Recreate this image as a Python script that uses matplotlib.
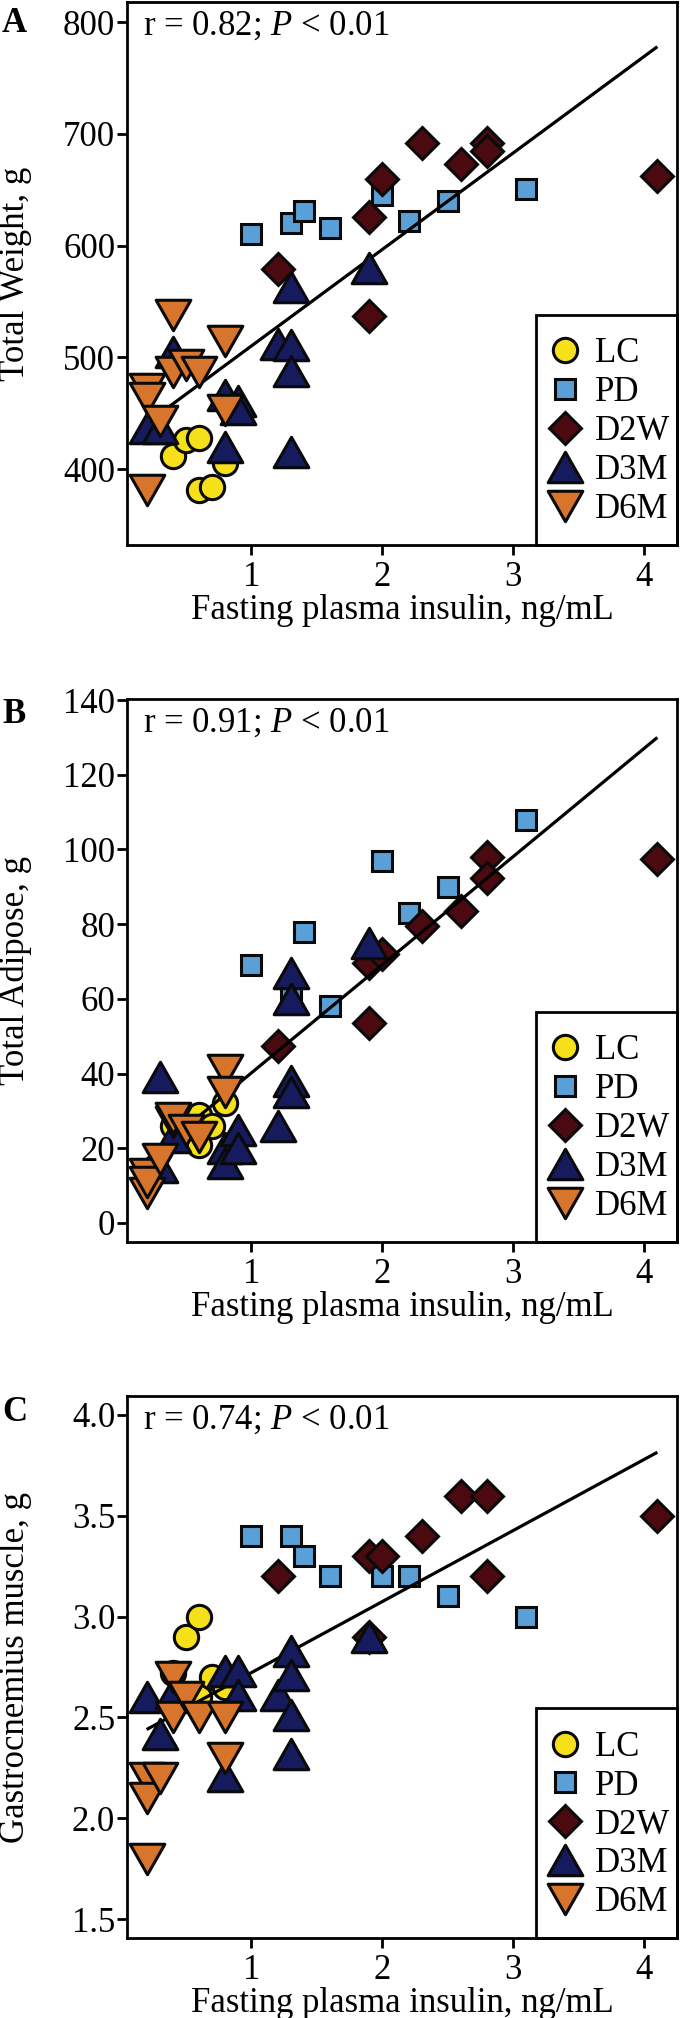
import matplotlib
matplotlib.use("Agg")
import matplotlib.pyplot as plt
from matplotlib.markers import MarkerStyle
from matplotlib.patches import Rectangle
from matplotlib.path import Path

plt.rcParams['font.family'] = ['Liberation Serif', 'DejaVu Serif']
plt.rcParams['mathtext.fontset'] = 'custom'
plt.rcParams['mathtext.rm'] = 'Liberation Serif'
plt.rcParams['mathtext.it'] = 'Liberation Serif:italic'

# ---------------- data ----------------
groups = ["LC", "PD", "D2W", "D3M", "D6M"]
group_colors = ["#F6E01A", "#5A9FD5", "#4A0A10", "#151B5C", "#D8752C"]

insulin_lc = [0.4, 0.5, 0.6, 0.6, 0.7, 0.8]
insulin_pd = [1.0, 1.3, 1.4, 1.6, 2.0, 2.2, 2.5, 3.1]
insulin_d2w = [1.2, 1.9, 1.9, 2.0, 2.3, 2.6, 2.8, 2.8, 4.1]
insulin_d3m = [0.2, 0.3, 0.4, 0.8, 0.8, 0.9, 0.9, 1.2, 1.3, 1.3, 1.3, 1.3, 1.9]
insulin_d3m_adipose = [0.3, 0.3, 0.4, 0.8, 0.8, 0.9, 0.9, 1.2, 1.3, 1.3, 1.3, 1.3, 1.9]
insulin_d6m = [0.2, 0.2, 0.2, 0.3, 0.4, 0.4, 0.5, 0.6, 0.8, 0.8]

weight_lc = [412, 426, 428, 381, 384, 405]
weight_pd = [610, 620, 631, 616, 645, 622, 640, 651]
weight_d2w = [579, 626, 537, 660, 692, 673, 692, 685, 662]
weight_d3m = [437, 437, 505, 466, 420, 461, 454, 512, 563, 511, 488, 415, 580]
weight_d6m = [472, 464, 381, 443, 538, 487, 493, 487, 515, 453]

adipose_lc = [26, 23, 29, 21, 26, 32]
adipose_pd = [69, 61.5, 78, 58, 97, 83, 90, 108]
adipose_d2w = [47.5, 69.5, 53.5, 72, 79.5, 83.5, 98, 92.5, 97.5]
adipose_d3m = [39, 15, 23, 20, 16, 25, 20, 26, 67, 60, 38, 35, 75]
adipose_d6m = [13, 8, 11, 17, 27, 28, 25, 23, 41, 35]

muscle_lc = [2.72, 2.9, 3.0, 2.6, 2.7, 2.65]
muscle_pd = [3.4, 3.4, 3.3, 3.2, 3.2, 3.2, 3.1, 3.0]
muscle_d2w = [3.2, 3.3, 2.9, 3.3, 3.4, 3.6, 3.6, 3.2, 3.5]
muscle_d3m = [2.6, 2.42, 2.62, 2.73, 2.21, 2.73, 2.61, 2.61, 2.83, 2.71, 2.51, 2.32, 2.9]
muscle_d6m = [2.2, 2.1, 1.8, 2.2, 2.7, 2.5, 2.6, 2.5, 2.5, 2.3]

fit_x = [0.2, 4.1]
weight_fit = [441, 778]
adipose_fit = [17, 130]
muscle_fit = [2.44, 3.815]

panel_letters = ["A", "B", "C"]
y_labels = ["Total Weight, g", "Total Adipose, g", "Gastrocnemius muscle, g"]
stats_text = [r"r = 0.82; $\mathit{P}$ < 0.01", r"r = 0.91; $\mathit{P}$ < 0.01",
              r"r = 0.74; $\mathit{P}$ < 0.01"]
x_ticks = [1, 2, 3, 4]
weight_ticks = [400, 500, 600, 700, 800]
adipose_ticks = [0, 20, 40, 60, 80, 100, 120, 140]
muscle_ticks = [1.5, 2.0, 2.5, 3.0, 3.5, 4.0]

# ---------------- styling ----------------
tri_w = 1.14
tri_up = MarkerStyle(Path([(-tri_w, -1), (tri_w, -1), (0, 1), (0, 0)], closed=True), joinstyle='miter')
tri_dn = MarkerStyle(Path([(-tri_w, 1), (tri_w, 1), (0, -1), (0, 0)], closed=True), joinstyle='miter')
markers = ['o', 's', 'D', tri_up, tri_dn]
msizes = [17.5, 15, 16.5, 25, 25]
zorders = [3.0, 3.1, 3.2, 3.4, 3.5]
EDGE = "#0a0a0a"
MEW = 2.2
FS = 25

fig = plt.figure(figsize=(6.8, 20.18), dpi=100)
rects = [[0.18676, 0.72993, 0.80882, 0.26908],
         [0.18676, 0.38454, 0.80882, 0.26908],
         [0.18676, 0.03964, 0.80882, 0.26858]]
ylims = [(332, 818), (-5.1, 140.3), (1.406, 4.094)]
letter_y = [32, 723, 1421]

panels = [
    ([insulin_lc, insulin_pd, insulin_d2w, insulin_d3m, insulin_d6m],
     [weight_lc, weight_pd, weight_d2w, weight_d3m, weight_d6m], weight_fit, weight_ticks, "{:.0f}"),
    ([insulin_lc, insulin_pd, insulin_d2w, insulin_d3m_adipose, insulin_d6m],
     [adipose_lc, adipose_pd, adipose_d2w, adipose_d3m, adipose_d6m], adipose_fit, adipose_ticks, "{:.0f}"),
    ([insulin_lc, insulin_pd, insulin_d2w, insulin_d3m, insulin_d6m],
     [muscle_lc, muscle_pd, muscle_d2w, muscle_d3m, muscle_d6m], muscle_fit, muscle_ticks, "{:.1f}"),
]

for i, (xs, ys, fit, yticks, fmt) in enumerate(panels):
    ax = fig.add_axes(rects[i])
    handles = []
    for g in range(5):
        h, = ax.plot(xs[g], ys[g], linestyle='none', marker=markers[g], ms=msizes[g],
                     mfc=group_colors[g], mec=EDGE, mew=MEW, zorder=zorders[g],
                     label=groups[g], clip_on=False)
        handles.append(h)
    ax.plot(fit_x, fit, color='k', lw=2.3, zorder=3.3, solid_capstyle='butt')

    ax.set_xlim(0.05, 4.25)
    ax.set_ylim(*ylims[i])
    ax.set_xticks(x_ticks)
    ax.set_xticklabels([str(t) for t in x_ticks])
    ax.set_yticks(yticks)
    ax.set_yticklabels([fmt.format(t) for t in yticks])
    for s in ax.spines.values():
        s.set_linewidth(2.0)
        s.set_color('k')
    ax.tick_params(axis='both', direction='out', length=7, width=2, labelsize=FS,
                   top=False, right=False)
    ax.tick_params(axis='y', pad=1.5)
    ax.tick_params(axis='x', pad=4.5)

    ax.set_xlabel("Fasting plasma insulin, ng/mL", fontsize=FS)
    ax.xaxis.set_label_coords(0.5, -0.091)
    ax.set_ylabel(y_labels[i], fontsize=FS)
    ax.yaxis.set_label_coords(-0.173, 0.5)

    ax.text(0.029, 0.939, stats_text[i], transform=ax.transAxes, fontsize=FS,
            ha='left', va='baseline')

    # legend frame
    ax.add_patch(Rectangle((0.7436, 0), 0.2564, 0.424, transform=ax.transAxes,
                           fill=False, lw=2.0, ec='k', zorder=5, clip_on=False))
    ax.legend(handles=handles, loc='center left', bbox_to_anchor=(0.766, 0.2085),
              frameon=False, fontsize=FS, handlelength=0.95, handletextpad=0.4,
              labelspacing=0.17, borderpad=0, borderaxespad=0, numpoints=1)

    fig.text(2 / 680, 1 - letter_y[i] / 2018, panel_letters[i], fontsize=FS,
             fontweight='bold', ha='left', va='baseline')

fig.savefig("out.png", dpi=100)
